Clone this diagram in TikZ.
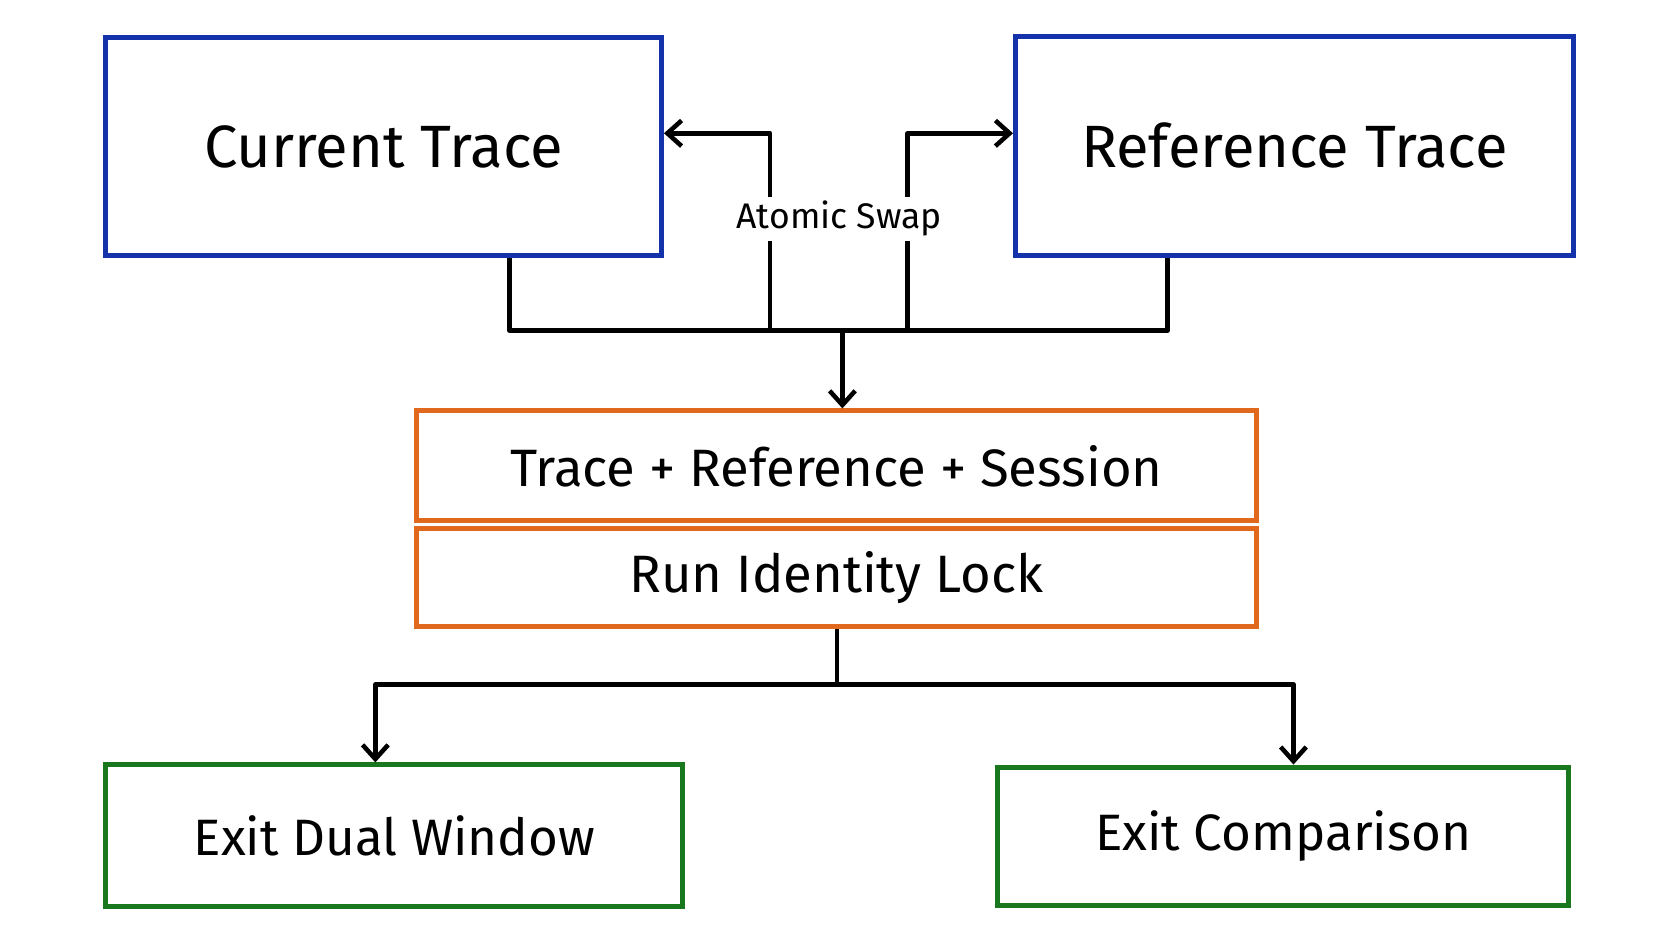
\documentclass[tikz,border=0pt]{standalone}
\usepackage{fontspec}
\setmainfont{Fira Sans}
\usetikzlibrary{arrows.meta}
\definecolor{boxblue}{RGB}{20,50,170}
\definecolor{boxorange}{RGB}{225,105,30}
\definecolor{boxgreen}{RGB}{25,120,30}
\tikzset{
  tracebox/.style={draw=boxblue, line width=3.5pt, anchor=north west, inner sep=0pt},
  lockbox/.style={draw=boxorange, line width=3.5pt, anchor=north west, inner sep=0pt},
  exitbox/.style={draw=boxgreen, line width=3.5pt, anchor=north west, inner sep=0pt},
  wire/.style={line width=3.2pt, line join=round},
  arr/.style={wire, -{Straight Barb[length=10pt,width=18pt,line width=3.2pt]}}
}
\begin{document}
\begin{tikzpicture}[x=0.75pt,y=0.75pt,yscale=-1,xscale=1]
    \useasboundingbox (0,0) rectangle (1568,882);
    
    % Boxes
    \node (cur) [tracebox, minimum width=521*0.75pt, minimum height=204*0.75pt] at (97,33) {\fontsize{42}{50}\selectfont Current Trace};
    \node (ref) [tracebox, minimum width=523*0.75pt, minimum height=205*0.75pt] at (950,32) {\fontsize{42}{50}\selectfont Reference Trace};
    \node (trs) [lockbox, minimum width=788*0.75pt, minimum height=103*0.75pt] at (388,383) {\fontsize{37}{44}\selectfont Trace + Reference + Session};
    \node (lock) [lockbox, minimum width=788*0.75pt, minimum height=92*0.75pt] at (388,493) {\fontsize{37}{44}\selectfont Run Identity Lock};
    \node (dual) [exitbox, minimum width=541*0.75pt, minimum height=133*0.75pt] at (97,715) {\fontsize{36}{43}\selectfont Exit Dual Window};
    \node (cmp) [exitbox, minimum width=536*0.75pt, minimum height=130*0.75pt] at (933,717) {\fontsize{36}{43}\selectfont Exit Comparison};
    
    % Junctions
    \coordinate (jtop) at (790,310);
    \coordinate (jbot) at (785,642);
    
    % Merge into lock
    \draw [wire] (cur.south -| 478,0) |- (jtop) -| (ref.south -| 1095,0);
    \draw [arr] (jtop) -- (trs.north -| jtop);
    
    % Atomic swap
    \draw [arr] (722,310) |- (cur.east |- 0,125);
    \draw [arr] (851,310) |- (ref.west |- 0,125);
    \node (swap) [fill=white, inner sep=3pt] at (787,205) {\fontsize{25}{30}\selectfont Atomic Swap};
    
    % Exits
    \draw [wire] (lock.south -| jbot) -- (jbot);
    \draw [arr] (jbot) -| (dual.north -| 352,0);
    \draw [arr] (jbot) -| (cmp.north -| 1213,0);
\end{tikzpicture}
\end{document}
